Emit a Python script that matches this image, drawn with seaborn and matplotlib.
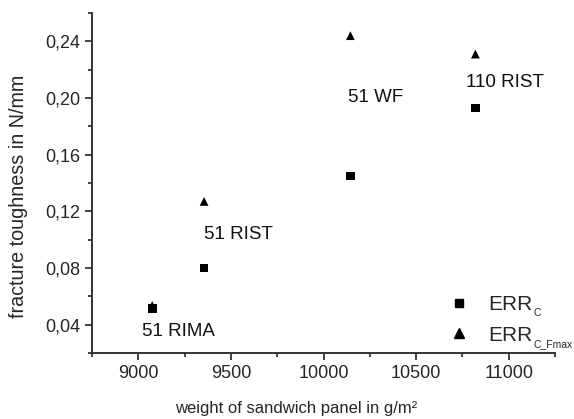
import numpy as np
import pandas as pd
import matplotlib
matplotlib.use("Agg")
import matplotlib.pyplot as plt
import seaborn as sns

# data
panels = ["51 RIMA", "51 RIST", "51 WF", "110 RIST"]
weight = [9075, 9355, 10145, 10820]
err_c = [0.0515, 0.080, 0.145, 0.193]
err_c_fmax = [0.0535, 0.127, 0.244, 0.231]

series_names = ["ERR_C", "ERR_C_Fmax"]
legend_main = ["ERR", "ERR"]
legend_sub = ["C", "C_Fmax"]

ytick_vals = [0.04, 0.08, 0.12, 0.16, 0.20, 0.24]
ytick_labels = ["0,04", "0,08", "0,12", "0,16", "0,20", "0,24"]
xtick_vals = [9000, 9500, 10000, 10500, 11000]

df = pd.DataFrame({
    "weight": weight * 2,
    "toughness": err_c + err_c_fmax,
    "series": [series_names[0]] * len(weight) + [series_names[1]] * len(weight),
})

sns.set_style("ticks")
plt.rcParams["font.family"] = ["Liberation Sans", "DejaVu Sans"]

fig = plt.figure(figsize=(5.74, 4.19), dpi=100)
ax = fig.add_axes([0.1603, 0.1575, 0.8067, 0.8115])

sns.scatterplot(data=df, x="weight", y="toughness", style="series",
                markers={series_names[0]: "s", series_names[1]: "^"},
                color="black", s=40, edgecolor="black", linewidth=0,
                ax=ax, legend=False, zorder=3)

# labels next to the points
label_pos = [(9022, 0.035), (9355, 0.1034), (10134, 0.2006), (10769, 0.2111)]
for name, (lx, ly) in zip(panels, label_pos):
    ax.text(lx, ly, name, fontsize=13.5, va="center", ha="left", color="#111111")

ax.set_xlim(8750, 11250)
ax.set_ylim(0.02, 0.26)
ax.set_xticks(xtick_vals)
ax.set_xticks(np.arange(8750, 11251, 250), minor=True)
ax.set_yticks(ytick_vals)
ax.set_yticklabels(ytick_labels)
ax.set_yticks(np.arange(0.02, 0.2601, 0.02), minor=True)

ax.set_xlabel("weight of sandwich panel in g/m²", fontsize=12)
ax.set_ylabel("fracture toughness in N/mm", fontsize=14.2)
ax.xaxis.set_label_coords(0.44, -0.141)
ax.yaxis.set_label_coords(-0.138, 0.462)

ax.tick_params(axis="both", which="major", labelsize=13, length=5, width=1.3,
               direction="out", color="#333333")
ax.tick_params(axis="both", which="minor", length=3, width=1.3,
               direction="out", color="#333333")
sns.despine(ax=ax)
for sp in ["left", "bottom"]:
    ax.spines[sp].set_linewidth(1.4)
    ax.spines[sp].set_color("#333333")

handles = [
    plt.Line2D([], [], marker="s", color="black", linestyle="none", markersize=6),
    plt.Line2D([], [], marker="^", color="black", linestyle="none", markersize=7),
]
leg = ax.legend(handles, legend_main, loc="center left",
                bbox_to_anchor=(448.6 / 574, (419 - 320) / 419),
                bbox_transform=fig.transFigure, frameon=False, fontsize=15,
                handlelength=1.0, handletextpad=0.9, labelspacing=0.55,
                borderpad=0, borderaxespad=0)

# subscripts placed after the legend is laid out
fig.canvas.draw()
for txt, sub in zip(leg.get_texts(), legend_sub):
    bb = txt.get_window_extent()
    fig.text((bb.x1 + 1) / fig.bbox.width, (bb.y0 - 2) / fig.bbox.height, sub,
             fontsize=7.5, va="baseline", ha="left")

fig.savefig("out.png", dpi=100)
